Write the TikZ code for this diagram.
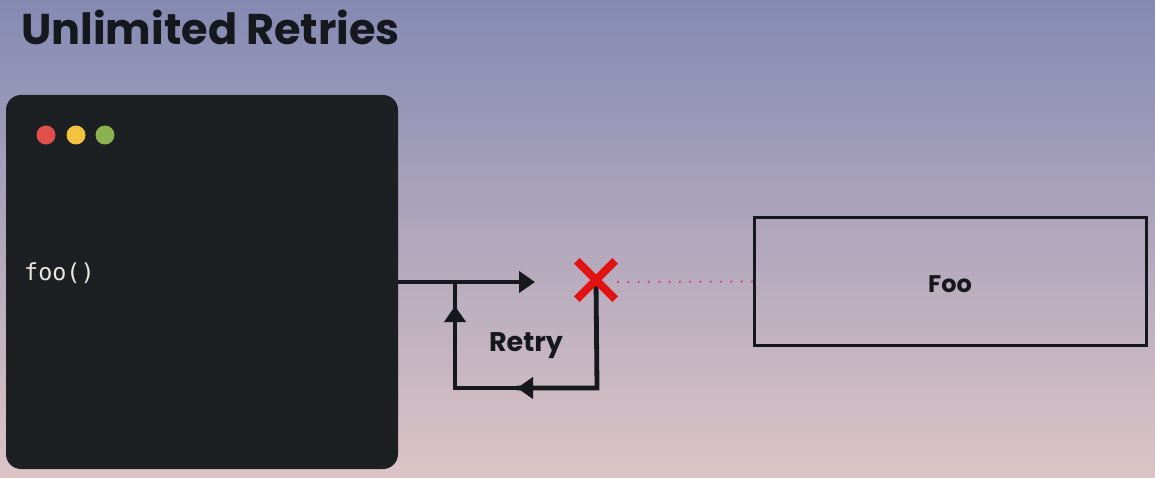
\documentclass[tikz,border=0pt]{standalone}
\usepackage{fontspec}
\setmainfont{Poppins}
\setmonofont{DejaVu Sans Mono}
\usetikzlibrary{arrows.meta}
\definecolor{bgtop}{HTML}{858AB3}
\definecolor{bgbot}{HTML}{DCC4C6}
\definecolor{term}{HTML}{1C2022}
\definecolor{dred}{HTML}{E0504A}
\definecolor{dyel}{HTML}{F2C240}
\definecolor{dgrn}{HTML}{8AB350}
\definecolor{ink}{HTML}{15181C}
\definecolor{xred}{HTML}{E31212}
\definecolor{dotred}{HTML}{E04262}
\definecolor{codefg}{HTML}{ECE6DE}
\tikzset{
  flow/.style={draw=ink, line width=4.8pt},
  tip/.style={-{Triangle[length=16pt,width=21pt]}},
  dotbox/.style={circle, minimum size=19pt, inner sep=0pt},
  label/.style={font=\bfseries, text=ink}
}
\begin{document}
\begin{tikzpicture}[x=1pt,y=-1pt]
\shade[top color=bgtop, bottom color=bgbot] (0,0) rectangle (1155,478);
\useasboundingbox (0,0) rectangle (1155,478);
\node[anchor=base west, inner sep=0pt, font=\fontsize{43}{48}\selectfont\bfseries, text=ink] (title) at (21,45) {Unlimited Retries};
% terminal
\node[fill=term, rounded corners=15pt, minimum width=392pt, minimum height=374pt, inner sep=0pt] (termbox) at (202,282) {};
\node[dotbox, fill=dred] (d1) at (46,135) {};
\node[dotbox, fill=dyel] (d2) at (76,135) {};
\node[dotbox, fill=dgrn] (d3) at (105,135) {};
\node[anchor=west, inner sep=0pt, font=\ttfamily\fontsize{23.4}{26}\selectfont, text=codefg] (code) at (24,273) {foo()};
% Foo box
\node[draw=ink, line width=3pt, minimum width=392pt, minimum height=127pt, inner sep=0pt, text=ink] (foo) at (950,281.5) {};
\node[label, font=\fontsize{24}{28}\selectfont\bfseries] (footext) at (950,284) {Foo};
% coordinates
\coordinate (start) at (termbox.east |- 0,282);
\coordinate (tipend) at (535,282);
\coordinate (xc) at (596,280);
\coordinate (br) at (597,388);
\coordinate (bl) at (455,388);
\coordinate (tl) at (455,282);
\coordinate (bmid) at (517,388);
\coordinate (lmid) at (455,306);
% main arrow
\draw[flow, tip] (start) -- (tipend);
% retry loop
\draw[flow] (xc) -- (br) -- (bmid);
\draw[flow, tip] (br) -- (bmid);
\draw[flow] (bmid) -- (bl) -- (lmid);
\draw[flow, tip] (bl) -- (lmid);
\draw[flow] (lmid) -- (tl);
% dotted
\draw[dotred, line width=2.6pt, line cap=round, dash pattern=on 0pt off 10.3pt] (618,282) -- (foo.west);
% red X
\node[inner sep=0pt, minimum size=38pt] (xmark) at (xc) {};
\draw[xred, line width=8pt] (xmark.north west) -- (xmark.south east);
\draw[xred, line width=8pt] (xmark.north east) -- (xmark.south west);
\node[label, font=\fontsize{27}{30}\selectfont\bfseries] (retry) at (526,346) {Retry};
\end{tikzpicture}
\end{document}
